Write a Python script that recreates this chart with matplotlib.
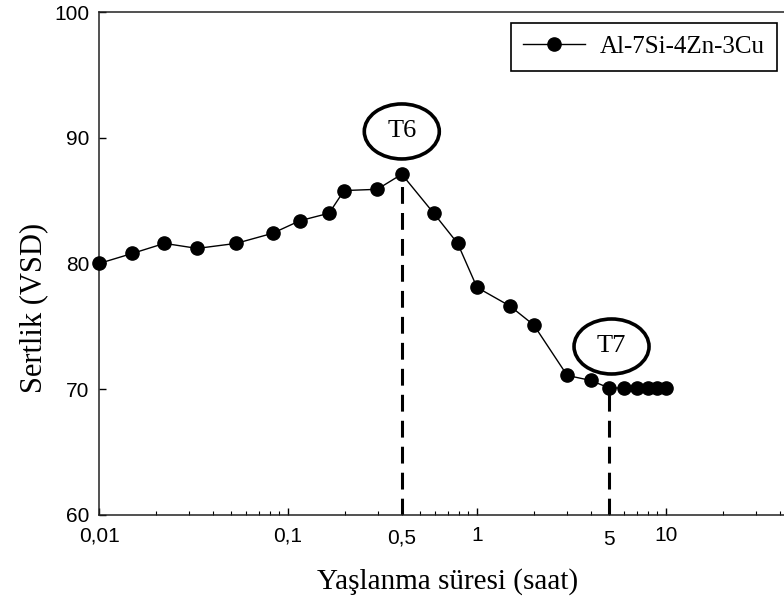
import matplotlib.pyplot as plt
from matplotlib.patches import Ellipse
from matplotlib.transforms import ScaledTranslation
from matplotlib.ticker import LogLocator, FixedLocator, FixedFormatter, NullFormatter

# --- data ---
aging_time = [0.01, 0.015, 0.0222, 0.0331, 0.0532, 0.0828, 0.1155, 0.165, 0.198,
              0.2965, 0.4, 0.59, 0.79, 1.0, 1.5, 2.0, 3.0, 4.0, 5.0,
              6.0, 7.0, 8.0, 9.0, 10.0]
hardness = [80.0, 80.8, 81.6, 81.2, 81.6, 82.4, 83.4, 84.0, 85.8,
            85.9, 87.1, 84.0, 81.6, 78.1, 76.6, 75.1, 71.1, 70.7, 70.1,
            70.1, 70.1, 70.1, 70.1, 70.1]
series_name = 'Al-7Si-4Zn-3Cu'

x_ticks = [0.01, 0.1, 1, 10]
x_tick_labels = ['0,01', '0,1', '1', '10']
y_ticks = [60, 70, 80, 90, 100]

# marked states: (label, time of the marked point, hardness at point, label text below axis)
t6 = ('T6', 0.4, 87.1, '0,5')
t7 = ('T7', 5.0, 70.1, '5')

serif = 'Liberation Serif'
sans = 'Liberation Sans'

fig = plt.figure(figsize=(7.84, 6.0), dpi=100)
ax = fig.add_axes([99 / 784, 85 / 600, 756 / 784, 503 / 600])

ax.plot(aging_time, hardness, color='black', lw=1.0, marker='o', markersize=9.5,
        label=series_name, clip_on=False, zorder=3)

ax.set_xscale('log')
ax.set_xlim(0.01, 100)
ax.set_ylim(60, 100)

ax.xaxis.set_major_locator(FixedLocator(x_ticks))
ax.xaxis.set_major_formatter(FixedFormatter(x_tick_labels))
ax.xaxis.set_minor_locator(LogLocator(base=10, subs=range(2, 10), numticks=20))
ax.xaxis.set_minor_formatter(NullFormatter())
ax.set_yticks(y_ticks)

ax.tick_params(which='major', direction='in', length=5, width=1, labelsize=15, pad=8)
ax.tick_params(which='minor', direction='in', length=3, width=0.8)
ax.tick_params(axis='y', pad=7)
ax.tick_params(top=False, right=False)
for lbl in ax.get_xticklabels() + ax.get_yticklabels():
    lbl.set_fontfamily(sans)

for s in ax.spines.values():
    s.set_linewidth(1.1)
    s.set_color('#222222')

# dashed guide lines, ellipse labels and their axis annotations
for name, xt, yt, axis_txt in [t6, t7]:
    ax.plot([xt, xt], [60, yt], color='black', lw=2.2, linestyle=(0, (5.5, 3)), zorder=2)
    ax.annotate(axis_txt, xy=(xt, 0), xycoords=('data', 'axes fraction'),
                xytext=(0, -16.5 if axis_txt == '0,5' else -17.5), textcoords='offset points',
                ha='center', va='center', fontsize=15, family=sans)

ellipses = [(t6[0], t6[1], 90.5), (t7[0], 5.15, 73.4)]
for name, ex, ey in ellipses:
    tr = fig.dpi_scale_trans + ScaledTranslation(ex, ey, ax.transData)
    ax.add_patch(Ellipse((0, 0), width=0.75, height=0.55, transform=tr,
                         fill=False, edgecolor='black', lw=2.6, clip_on=False))
    ax.text(ex, ey, name, ha='center', va='center', fontsize=19, family=serif)

leg = ax.legend(loc='upper right', bbox_to_anchor=(777 / 784, 1 - 23 / 600),
                bbox_transform=fig.transFigure, prop={'family': serif, 'size': 18},
                fancybox=False, edgecolor='black', framealpha=1, handlelength=2.45,
                handletextpad=0.6, borderpad=0.5, borderaxespad=0)
leg.get_frame().set_linewidth(1.2)

fig.text(448 / 784, 1 - 582 / 600, 'Yaşlanma süresi (saat)', ha='center', va='center',
         fontsize=21, family=serif)
fig.text(34 / 784, 1 - 308 / 600, 'Sertlik (VSD)', ha='center', va='center',
         rotation=90, fontsize=22, family=serif)

fig.savefig('out.png', dpi=100)
